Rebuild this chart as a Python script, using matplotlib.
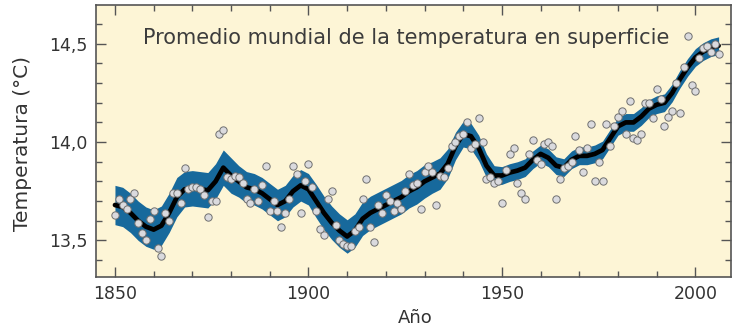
import numpy as np
import matplotlib.pyplot as plt

plt.rcParams['font.family'] = ['DejaVu Sans']

# annual global mean surface temperature (degC), 1850-2006
years = np.arange(1850, 2007)
annual = [
    13.63, 13.71, 13.68, 13.66, 13.71, 13.74, 13.59, 13.54, 13.50, 13.61,  # 1850s
    13.65, 13.46, 13.42, 13.64, 13.60, 13.74, 13.74, 13.69, 13.87, 13.76,  # 1860s
    13.77, 13.77, 13.76, 13.73, 13.62, 13.70, 13.70, 14.04, 14.06, 13.82,  # 1870s
    13.81, 13.83, 13.82, 13.79, 13.71, 13.69, 13.76, 13.70, 13.78, 13.88,  # 1880s
    13.65, 13.70, 13.65, 13.57, 13.64, 13.71, 13.88, 13.84, 13.64, 13.80,  # 1890s
    13.89, 13.77, 13.65, 13.56, 13.53, 13.71, 13.75, 13.58, 13.50, 13.48,  # 1900s
    13.47, 13.47, 13.55, 13.57, 13.71, 13.81, 13.57, 13.49, 13.68, 13.64,  # 1910s
    13.73, 13.70, 13.65, 13.69, 13.66, 13.75, 13.84, 13.78, 13.79, 13.66,  # 1920s
    13.85, 13.88, 13.85, 13.68, 13.83, 13.82, 13.87, 13.98, 14.00, 14.03,  # 1930s
    14.04, 14.10, 13.97, 13.99, 14.12, 14.00, 13.81, 13.82, 13.79, 13.80,  # 1940s
    13.69, 13.86, 13.94, 13.97, 13.79, 13.74, 13.71, 13.94, 14.01, 13.91,  # 1950s
    13.89, 13.99, 14.00, 13.98, 13.71, 13.81, 13.87, 13.88, 13.90, 14.03,  # 1960s
    13.96, 13.85, 13.97, 14.09, 13.80, 13.90, 13.80, 14.09, 13.98, 14.08,  # 1970s
    14.13, 14.16, 14.04, 14.21, 14.02, 14.01, 14.04, 14.20, 14.20, 14.12,  # 1980s
    14.27, 14.22, 14.08, 14.13, 14.16, 14.30, 14.15, 14.38, 14.54, 14.29,  # 1990s
    14.26, 14.43, 14.48, 14.49, 14.46, 14.50, 14.45,                       # 2000s
]

# decadal smoothed curve and its uncertainty (half width of the band)
smooth_years = np.arange(1850, 2007, 2)
smooth = [
    13.68, 13.67, 13.64, 13.60, 13.57, 13.555, 13.575, 13.64, 13.72, 13.76,
    13.765, 13.76, 13.755, 13.80, 13.87, 13.83, 13.80, 13.77, 13.76, 13.74,
    13.71, 13.68, 13.70, 13.75, 13.78, 13.76, 13.70, 13.64, 13.59, 13.55,
    13.52, 13.55, 13.61, 13.64, 13.66, 13.68, 13.70, 13.72, 13.75, 13.77,
    13.80, 13.82, 13.84, 13.89, 13.98, 14.04, 14.03, 13.97, 13.88, 13.83,
    13.83, 13.845, 13.855, 13.87, 13.91, 13.94, 13.92, 13.88, 13.87, 13.91,
    13.93, 13.93, 13.94, 13.96, 14.02, 14.08, 14.10, 14.10, 14.13, 14.17,
    14.19, 14.20, 14.25, 14.32, 14.38, 14.43, 14.46, 14.48, 14.49,
]
spread = [
    0.10, 0.10, 0.10, 0.10, 0.10, 0.10, 0.10, 0.10, 0.10, 0.09,
    0.09, 0.09, 0.09, 0.09, 0.09, 0.09, 0.08, 0.08, 0.08, 0.08,
    0.08, 0.08, 0.08, 0.08, 0.08, 0.08, 0.085, 0.085, 0.085, 0.085,
    0.085, 0.085, 0.085, 0.085, 0.085, 0.085, 0.085, 0.085, 0.085, 0.085,
    0.085, 0.08, 0.08, 0.075, 0.07, 0.065, 0.065, 0.065, 0.06, 0.05,
    0.045, 0.045, 0.045, 0.045, 0.045, 0.045, 0.045, 0.045, 0.045, 0.045,
    0.045, 0.045, 0.045, 0.045, 0.045, 0.045, 0.045, 0.045, 0.045, 0.045,
    0.045, 0.045, 0.045, 0.045, 0.045, 0.045, 0.045, 0.045, 0.045,
]

smooth = np.array(smooth)
spread = np.array(spread)

fig = plt.figure(figsize=(7.32, 3.33), dpi=100)
ax = fig.add_axes([96/732, 56/333, 635/732, 272/333])
ax.set_facecolor('#fdf5d6')

ax.fill_between(smooth_years, smooth - spread, smooth + spread,
                color='#17699c', lw=0, zorder=2)
ax.plot(smooth_years, smooth, color='black', lw=3.4,
        solid_joinstyle='round', solid_capstyle='round', zorder=3)
ax.scatter(years, annual, s=28, color='#dadade', edgecolor='#707070',
           linewidth=0.7, zorder=4)

ax.set_xlim(1845.1, 2009.2)
ax.set_ylim(13.314, 14.697)
ax.set_xticks([1850, 1900, 1950, 2000])
ax.set_xticks(np.arange(1850, 2010, 10), minor=True)
ax.set_yticks([13.5, 14.0, 14.5])
ax.set_yticklabels(['13,5', '14,0', '14,5'])
ax.set_yticks(np.arange(13.4, 14.7, 0.1), minor=True)

ax.tick_params(which='both', direction='in', top=True, right=True,
               color='#555555', width=1.0, labelsize=12.5, labelcolor='#333333')
ax.tick_params(which='major', length=7, pad=6)
ax.tick_params(which='minor', length=4)
for s in ax.spines.values():
    s.set_color('#555555')
    s.set_linewidth(1.2)

ax.text(0.074, 0.879, 'Promedio mundial de la temperatura en superficie',
        transform=ax.transAxes, fontsize=15, color='#3c3c3c', va='center')
ax.set_xlabel('Año', fontsize=13, color='#333333')
ax.set_ylabel('Temperatura (°C)', fontsize=14.5, color='#333333')
ax.xaxis.set_label_coords(0.502, -0.118)
ax.yaxis.set_label_coords(-0.101, 0.49)

fig.savefig('out.png', dpi=100)
